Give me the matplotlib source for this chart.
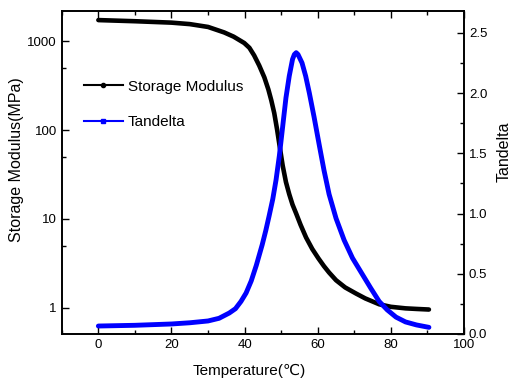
import matplotlib
matplotlib.use("Agg")
import matplotlib.pyplot as plt
from matplotlib.ticker import FixedLocator, MultipleLocator, NullFormatter

plt.rcParams['font.family'] = ['Liberation Sans', 'DejaVu Sans']

# storage modulus (MPa)
temp_e = [0, 10, 20, 25, 30, 34.4, 37, 39.9, 41.3, 42.6, 44, 45.4, 46.5, 47.3, 48.1,
          48.9, 49.5, 50.4, 51.3, 52.2, 53.1, 54.1, 55.3, 56.8, 58.5, 60.2, 61.7,
          63.1, 65, 67.5, 70.5, 73, 76.8, 80, 84, 87, 90.4]
storage = [1720, 1670, 1610, 1550, 1440, 1250, 1120, 950, 840, 690, 530, 390, 285,
           215, 155, 100, 69, 40, 26, 19, 14.5, 11.5, 8.6, 6.2, 4.6, 3.6, 2.95, 2.5,
           2.05, 1.7, 1.45, 1.28, 1.1, 1.03, 0.99, 0.975, 0.96]

# tan delta
temp_t = [0, 10, 20, 25, 30, 33, 35.8, 37.5, 39, 40.4, 41.8, 43.2, 44.8, 45.8, 46.7,
          47.7, 48.6, 49.5, 50.4, 51.3, 52.2, 53.1, 53.6, 54.1, 54.6, 55.7, 56.7,
          57.7, 59, 60.4, 61.7, 63.1, 65, 67.2, 69.5, 72.1, 74.5, 76.8, 79, 81.4,
          84, 87, 90.4]
tandelta = [0.066, 0.072, 0.083, 0.093, 0.108, 0.13, 0.174, 0.21, 0.27, 0.34, 0.44,
            0.57, 0.74, 0.86, 0.98, 1.12, 1.28, 1.48, 1.72, 1.96, 2.14, 2.28, 2.32,
            2.335, 2.32, 2.25, 2.14, 2.0, 1.8, 1.57, 1.36, 1.16, 0.96, 0.78, 0.63,
            0.5, 0.38, 0.27, 0.2, 0.14, 0.1, 0.075, 0.055]

fig = plt.figure(figsize=(5.15, 3.83), dpi=100)
ax = fig.add_axes([0.120, 0.128, 0.781, 0.843])
ax2 = ax.twinx()

ax.plot(temp_e, storage, color='black', lw=3.3, solid_capstyle='round',
        solid_joinstyle='round')
ax2.plot(temp_t, tandelta, color='#0000ff', lw=3.5, solid_capstyle='round',
         solid_joinstyle='round')

ax.set_yscale('log')
ax.set_xlim(-10, 100)
ax.set_ylim(0.51, 2170)
ax2.set_ylim(0, 2.68)

ax.set_xticks([0, 20, 40, 60, 80, 100])
ax.xaxis.set_minor_locator(MultipleLocator(10))
ax.yaxis.set_major_locator(FixedLocator([1, 10, 100, 1000]))
ax.yaxis.set_minor_locator(FixedLocator([5, 50, 500]))
ax.yaxis.set_minor_formatter(NullFormatter())
ax.set_yticklabels(['1', '10', '100', '1000'])
ax2.yaxis.set_major_locator(MultipleLocator(0.5))
ax2.yaxis.set_minor_locator(MultipleLocator(0.25))

ax.tick_params(which='both', direction='in', top=True, labelsize=9.5, width=1)
ax.tick_params(which='major', length=5)
ax.tick_params(which='minor', length=3)
ax2.tick_params(which='both', direction='in', labelsize=9.5, width=1)
ax2.tick_params(which='major', length=5)
ax2.tick_params(which='minor', length=3)
for a in (ax, ax2):
    for s in a.spines.values():
        s.set_linewidth(1.2)

ax.set_xlabel('Temperature(℃)', fontsize=11)
ax.xaxis.set_label_coords(0.465, -0.093)
ax.set_ylabel('Storage Modulus(MPa)', fontsize=11.5)
ax.yaxis.set_label_coords(-0.095, 0.539)
ax2.set_ylabel('Tandelta', fontsize=11.5)
ax2.yaxis.set_label_coords(1.082, 0.563)

leg_e, = ax.plot([], [], color='black', lw=1.5, marker='o', ms=3)
leg_t, = ax.plot([], [], color='#0000ff', lw=1.5, marker='s', ms=3)
ax.legend([leg_e, leg_t], ['Storage Modulus', 'Tandelta'], loc='upper left',
          bbox_to_anchor=(0.02, 0.83), frameon=False, fontsize=11,
          handlelength=2.6, labelspacing=1.4, handletextpad=0.3)

fig.savefig('out.png', dpi=100)
